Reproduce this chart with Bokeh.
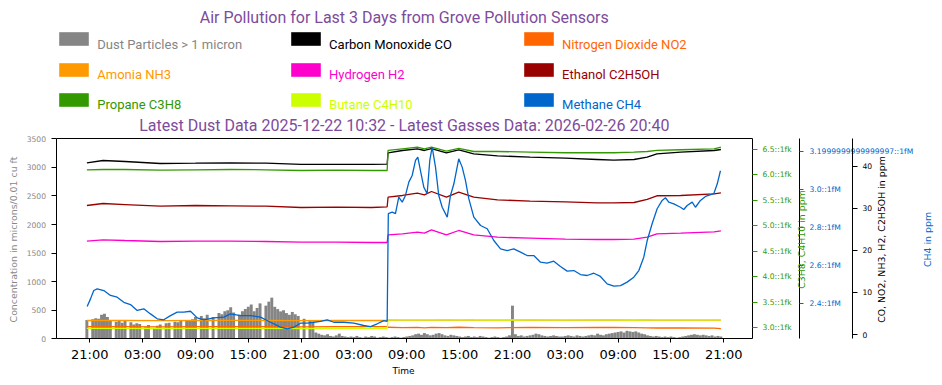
import math
import pandas as pd
from bokeh.plotting import figure
from bokeh.models import (Range1d, LinearAxis, FixedTicker, DatetimeTickFormatter,
                          Legend, LegendItem, Label, ColumnDataSource, CustomJSTickFormatter)
from bokeh.embed import file_html
from bokeh.resources import INLINE

# ---------------- data ----------------
first_tick = "2026-02-23 21:00"
x_tick_hours = [0, 6, 12, 18, 24, 30, 36, 42, 48, 54, 60, 66, 72]

# dust: one value per 20 minutes starting 2026-02-23 20:40
dust_start_hour = -1.0 / 3.0
dust_step_hours = 1.0 / 3.0
dust_values = [
    330, 0, 340, 360, 350, 420, 440, 380, 330, 0, 300, 310, 280, 320, 0, 290, 250, 270,
    260, 0, 200, 240, 0, 170, 230, 250, 0, 270, 280, 0, 300, 290, 310, 0, 320, 330,
    340, 380, 0, 400, 360, 420, 0, 380, 0, 450, 430, 480, 500, 550, 460, 0, 420, 480,
    520, 560, 600, 480, 540, 620, 0, 580, 650, 720, 560, 520, 480, 500, 450, 420, 470, 430,
    400, 0, 350, 0, 330, 300, 110, 90, 70, 60, 80, 50, 40, 60, 90, 50, 40, 30,
    40, 30, 50, 30, 20, 40, 30, 50, 40, 20, 30, 40, 30, 20, 30, 40, 30, 20,
    30, 40, 50, 60, 80, 90, 70, 100, 80, 60, 70, 90, 100, 80, 60, 50, 70, 60,
    50, 40, 30, 40, 50, 30, 40, 30, 50, 40, 30, 20, 30, 40, 30, 20, 30, 40,
    60, 580, 80, 50, 60, 40, 50, 60, 70, 90, 80, 60, 50, 40, 50, 60, 50, 40,
    40, 50, 60, 50, 40, 60, 50, 40, 50, 60, 70, 60, 90, 70, 60, 80, 90, 100,
    110, 120, 130, 110, 140, 130, 120, 130, 110, 90, 80, 60, 50, 40, 50, 40, 30, 40,
    30, 40, 30, 20, 30, 40, 50, 60, 70, 80, 70, 60, 70, 60, 50, 60, 40, 50, 40,
]

# gases (hours after 2026-02-23 21:00)
gas_hours = [-0.33, 1.5, 4, 8, 12, 16, 20, 24, 28, 32, 33.77,
             33.87, 35.5, 37.2, 38.0, 38.8, 40.5, 41.9, 43.6, 46.3, 50, 54,
             57.6, 59.5, 61.8, 63.3, 64.4, 67.1, 70.9, 71.67]
co = [40.81, 41.35, 41.12, 40.64, 40.72, 40.81, 40.72, 40.41, 40.41, 40.41, 40.48,
      43.18, 43.73, 44.14, 43.73, 44.20, 43.18, 43.90, 42.95, 42.47, 42.14, 41.90,
      41.59, 41.43, 41.59, 42.14, 42.95, 43.33, 43.73, 43.97]
no2 = [1.85, 1.87, 1.85, 1.83, 1.85, 1.87, 1.85, 1.83, 1.85, 1.85, 1.85,
       1.72, 1.62, 1.70, 1.58, 1.68, 1.62, 1.72, 1.65, 1.60, 1.68, 1.62,
       1.70, 1.66, 1.62, 1.58, 1.55, 1.55, 1.50, 1.40]
nh3 = [3.33, 3.35, 3.33, 3.31, 3.33, 3.35, 3.33, 3.31, 3.33, 3.33, 3.33,
       3.45, 3.47, 3.45, 3.47, 3.45, 3.45, 3.47, 3.45, 3.43, 3.45, 3.47,
       3.45, 3.45, 3.43, 3.45, 3.47, 3.45, 3.45, 3.43]
h2 = [22.17, 22.51, 22.34, 22.10, 22.17, 22.17, 22.10, 21.94, 21.94, 21.87, 21.87,
      23.70, 23.93, 24.31, 24.08, 24.88, 23.70, 24.72, 23.70, 23.13, 22.89, 22.66,
      22.58, 22.58, 22.66, 23.13, 23.93, 24.08, 24.41, 24.65]
c2h5oh = [30.66, 31.13, 30.89, 30.49, 30.66, 30.58, 30.49, 30.18, 30.26, 30.18, 30.35,
          32.63, 33.04, 33.58, 33.20, 33.99, 32.63, 33.82, 32.63, 32.01, 31.68, 31.54,
          31.30, 31.30, 31.37, 32.09, 32.97, 33.04, 33.44, 33.68]
c3h8 = [6.101, 6.107, 6.107, 6.093, 6.101, 6.107, 6.101, 6.087, 6.093, 6.087, 6.087,
        6.480, 6.513, 6.545, 6.513, 6.545, 6.466, 6.519, 6.460, 6.460, 6.447, 6.435,
        6.435, 6.435, 6.447, 6.460, 6.480, 6.494, 6.513, 6.545]
c4h10 = [2.988, 2.990, 2.988, 2.986, 2.988, 2.990, 2.988, 2.986, 2.988, 2.988, 2.988,
         3.155, 3.158, 3.160, 3.158, 3.160, 3.155, 3.158, 3.155, 3.152, 3.155, 3.158,
         3.155, 3.155, 3.152, 3.155, 3.158, 3.160, 3.158, 3.155]

ch4_hours = [-0.30, 0.08, 0.45, 0.84, 1.59, 2.35, 3.11, 3.86, 4.62, 5.38, 6.13, 6.89,
             7.65, 8.40, 9.16, 9.93, 10.67, 11.44, 12.20, 12.95, 14.08, 15.22, 15.98,
             17.11, 18.25, 19.38, 20.52, 21.66, 22.42, 23.17, 23.93, 24.69, 25.44,
             26.20, 26.96, 27.71, 28.84, 29.98, 31.11, 31.88, 32.64, 33.39, 33.77,
             33.90, 34.34, 34.71, 35.09, 35.48, 35.85, 36.23, 36.61, 36.99, 37.25,
             37.55, 37.93, 38.31, 38.61, 38.88, 39.26, 39.63, 40.02, 40.59, 40.96,
             41.34, 41.90, 42.29, 42.66, 43.04, 43.61, 44.37, 45.13, 45.88, 46.64,
             47.40, 48.15, 48.91, 49.67, 50.42, 51.18, 51.94, 52.69, 53.45, 54.21,
             54.97, 55.72, 56.48, 57.24, 57.99, 58.75, 59.51, 60.27, 61.02, 61.78,
             62.35, 62.91, 63.30, 63.86, 64.43, 65.00, 65.37, 65.75, 66.32, 67.08,
             67.45, 67.84, 68.41, 68.78, 69.35, 69.92, 70.86, 71.25, 71.62]
ch4 = [2.386, 2.426, 2.470, 2.479, 2.470, 2.444, 2.435, 2.408, 2.396, 2.365, 2.374, 2.347,
       2.321, 2.316, 2.338, 2.356, 2.356, 2.361, 2.326, 2.316, 2.326, 2.330, 2.347,
       2.338, 2.338, 2.330, 2.303, 2.277, 2.268, 2.277, 2.298, 2.298, 2.303,
       2.308, 2.316, 2.303, 2.303, 2.298, 2.286, 2.280, 2.295, 2.312, 2.308,
       2.874, 2.882, 2.874, 2.961, 2.935, 2.970, 3.040, 3.075, 3.154, 3.172,
       3.100, 3.014, 2.979, 3.154, 3.224, 3.119, 2.970, 2.908, 2.856, 2.970,
       3.030, 3.163, 3.119, 3.049, 2.953, 2.856, 2.812, 2.795, 2.733, 2.689,
       2.680, 2.689, 2.672, 2.654, 2.654, 2.619, 2.614, 2.624, 2.596, 2.572,
       2.575, 2.554, 2.549, 2.561, 2.544, 2.505, 2.493, 2.496, 2.514, 2.540,
       2.575, 2.645, 2.733, 2.821, 2.900, 2.944, 2.958, 2.935, 2.926, 2.908,
       2.896, 2.917, 2.935, 2.908, 2.944, 2.965, 2.979, 3.030, 3.100]

# value ranges of the plotting box, and ticks
dust_range = (0, 3500)
gas_range = (-1.02, 46.51)
c3c4_range = (2.784, 6.709)
ch4_range = (2.216, 3.268)
dust_ticks = [0, 500, 1000, 1500, 2000, 2500, 3000, 3500]
c3c4_ticks = [3.0, 3.5, 4.0, 4.5, 5.0, 5.5, 6.0, 6.5]
c3c4_tick_labels = ["3.0::1fk", "3.5::1fk", "4.0::1fk", "4.5::1fk",
                    "5.0::1fk", "5.5::1fk", "6.0::1fk", "6.5::1fk"]
ch4_ticks = [2.4, 2.6, 2.8, 3.0, 3.2]
ch4_tick_labels = ["2.4::1fM", "2.6::1fM", "2.8::1fM", "3.0::1fM",
                   "3.1999999999999997::1fM"]
gas_ticks = [0, 10, 20, 30, 40]

legend_labels = ["Dust Particles > 1 micron", "Carbon Monoxide CO", "Nitrogen Dioxide NO2",
                 "Amonia NH3", "Hydrogen H2", "Ethanol C2H5OH",
                 "Propane C3H8", "Butane C4H10", "Methane CH4"]
legend_keys = ["dust", "co", "no2", "nh3", "h2", "c2h5oh", "c3h8", "c4h10", "ch4"]
colors = {"dust": "#858585", "co": "#000000", "no2": "#ff6600", "nh3": "#ff9900",
          "h2": "#ff00cc", "c2h5oh": "#990000", "c3h8": "#339900", "c4h10": "#ccff00",
          "ch4": "#0066cc"}

title_text = "Air Pollution for Last 3 Days from Grove Pollution Sensors"
subtitle_text = "Latest Dust Data 2025-12-22 10:32 - Latest Gasses Data: 2026-02-26 20:40"
x_label = "Time"
dust_label = "Concentration in microns/0.01 cu ft"
c3c4_label = "C3H8, C4H10 in ppm"
ch4_label = "CH4 in ppm"
gas_label = "CO, NO2, NH3, H2, C2H5OH in ppm"
PURPLE = "#7d4b9c"
GRAY_TXT = "#888888"

# ---------------- layout (page pixels; the whole canvas is the frame) ----------------
W, H = 942, 385
BOX_L, BOX_R = 55.5, 752.0       # plotting box left/right
BOX_T, BOX_B = 138.3, 338.3      # plotting box top/bottom
TICK0_X = 89.3                   # x of the first 21:00 tick
PX_PER_HOUR = 8.8056
BLUE_X, BLACK_X = 799.0, 852.0
MID_Y = 239.0

T0 = pd.Timestamp(first_tick)


def at_hours(hs):
    return [T0 + pd.Timedelta(hours=h) for h in hs]


def ms(ts):
    return (ts - pd.Timestamp("1970-01-01")) / pd.Timedelta(milliseconds=1)


MS_PER_PX = 3600 * 1000 / PX_PER_HOUR
t0_ms = ms(T0)


def x_at(px):
    return t0_ms + (px - TICK0_X) * MS_PER_PX


def y_range_for(rng):
    lo, hi = rng
    per_px = (hi - lo) / (BOX_B - BOX_T)
    return Range1d(lo - (H - BOX_B) * per_px, hi + BOX_T * per_px)


x0, x1 = x_at(BOX_L), x_at(BOX_R)

dust_hours = [dust_start_hour + i * dust_step_hours for i in range(len(dust_values))]
dust_src = ColumnDataSource(dict(t=at_hours(dust_hours), v=dust_values))
gas_src = ColumnDataSource(dict(t=at_hours(gas_hours), co=co, no2=no2, nh3=nh3, h2=h2,
                                c2h5oh=c2h5oh, c3h8=c3h8, c4h10=c4h10))
ch4_src = ColumnDataSource(dict(t=at_hours(ch4_hours), v=ch4))

p = figure(width=W, height=H, x_axis_type="datetime",
           x_range=Range1d(x_at(0), x_at(W)), y_range=y_range_for(dust_range),
           output_backend="svg", toolbar_location=None,
           min_border_left=0, min_border_right=0, min_border_top=0, min_border_bottom=0)
p.extra_y_ranges = {"gas": y_range_for(gas_range), "c3c4": y_range_for(c3c4_range),
                    "ch4": y_range_for(ch4_range)}
p.grid.visible = False
p.outline_line_color = None
p.background_fill_color = "white"
p.border_fill_color = "white"

TICK_FONT = "DejaVu Sans"


def labels_formatter(tick_values, tick_texts):
    return CustomJSTickFormatter(
        args=dict(tv=tick_values, lbl=tick_texts),
        code="for (let i = 0; i < tv.length; i++) {"
             " if (Math.abs(tv[i] - tick) < 1e-6) { return lbl[i]; } }"
             " return String(tick);")


def style_axis(ax, color, label_color=None, standoff=5, tick_out=5):
    ax.major_tick_in = 0
    ax.major_tick_out = tick_out
    ax.minor_tick_line_color = None
    ax.axis_line_color = "black"
    ax.major_tick_line_color = color
    ax.major_label_text_color = label_color or color
    ax.major_label_text_font = TICK_FONT
    ax.major_label_text_font_size = "7.6px"
    ax.major_label_standoff = standoff


# bottom axis
xa = p.xaxis[0]
xa.fixed_location = dust_range[0]
xa.bounds = (x0, x1)
xa.ticker = FixedTicker(ticks=[ms(t) for t in at_hours(x_tick_hours)])
xa.formatter = DatetimeTickFormatter(hours="%H:%M", hourmin="%H:%M", days="%H:%M",
                                     minutes="%H:%M", strip_leading_zeros=False)
style_axis(xa, "black", "black", standoff=4, tick_out=4)
xa.major_label_text_font_size = "13px"

# left axis (dust)
ya = p.yaxis[0]
ya.fixed_location = x0
ya.bounds = dust_range
ya.ticker = FixedTicker(ticks=dust_ticks)
style_axis(ya, "black", GRAY_TXT, standoff=5, tick_out=5)

# top edge of the plotting box
top_ax = LinearAxis(fixed_location=dust_range[1], bounds=(x0, x1),
                    ticker=FixedTicker(ticks=[]), major_tick_line_color=None,
                    minor_tick_line_color=None, axis_line_color="black")
p.add_layout(top_ax, "above")

# right axes
green_ax = LinearAxis(y_range_name="c3c4", ticker=FixedTicker(ticks=c3c4_ticks),
                      bounds=c3c4_range, fixed_location=x1,
                      formatter=labels_formatter(c3c4_ticks, c3c4_tick_labels))
style_axis(green_ax, "#339900", standoff=5, tick_out=5)
p.add_layout(green_ax, "right")

blue_ax = LinearAxis(y_range_name="ch4", ticker=FixedTicker(ticks=ch4_ticks),
                     bounds=ch4_range, fixed_location=x_at(BLUE_X),
                     formatter=labels_formatter(ch4_ticks, ch4_tick_labels))
style_axis(blue_ax, "#0066cc", standoff=6, tick_out=4)
p.add_layout(blue_ax, "right")

black_ax = LinearAxis(y_range_name="gas", ticker=FixedTicker(ticks=gas_ticks),
                      bounds=gas_range, fixed_location=x_at(BLACK_X))
style_axis(black_ax, "black", standoff=5, tick_out=5)
p.add_layout(black_ax, "right")

# axis titles
axis_titles = [
    (x_label, 403.0, 370.0, 0.0, "black", "9px"),
    (dust_label, 12.6, MID_Y, math.pi / 2, GRAY_TXT, "9.4px"),
    (c3c4_label, 800.5, MID_Y, math.pi / 2, "#339900", "9.4px"),
    (gas_label, 880.8, MID_Y, math.pi / 2, "black", "9.4px"),
    (ch4_label, 926.7, MID_Y, math.pi / 2, "#0066cc", "9.4px"),
]
for text, cx, cy, ang, col, size in axis_titles:
    p.add_layout(Label(x=cx, y=H - cy, x_units="screen", y_units="screen", text=text,
                       angle=ang, text_align="center", text_baseline="middle",
                       text_font=TICK_FONT, text_font_size=size, text_color=col))

# ---------------- marks ----------------
renderers = {}
renderers["dust"] = p.vbar(x="t", top="v", width=20 * 60 * 1000, source=dust_src,
                           fill_color=colors["dust"], line_color=None)
for key in ["co", "no2", "nh3", "h2", "c2h5oh"]:
    p.line(x="t", y=key, source=gas_src, y_range_name="gas", line_color=colors[key],
           line_width=1.3)
for key in ["c3h8", "c4h10"]:
    p.line(x="t", y=key, source=gas_src, y_range_name="c3c4", line_color=colors[key],
           line_width=1.3)
p.line(x="t", y="v", source=ch4_src, y_range_name="ch4", line_color=colors["ch4"],
       line_width=1.3)

# legend swatches (patch proxies, as in the original legend; nothing drawn in the plot)
for key in legend_keys[1:]:
    renderers[key] = p.vbar(x=[float("nan")], top=[float("nan")], width=1,
                            fill_color=colors[key], line_color=None)
no_swatch = p.vbar(x=[float("nan")], top=[float("nan")], width=1,
                   fill_alpha=0, line_alpha=0)

COL_X = [55.3, 287.1, 520.1]
ROW_TOP = [30.3, 60.6, 90.9]
GLYPH_W, GLYPH_H = 37, 17
TEXT_DY = 14          # text centre sits below the top of the swatch
common = dict(orientation="vertical", padding=0, margin=0, spacing=0,
              background_fill_alpha=0, border_line_alpha=0)
for i, (key, lab) in enumerate(zip(legend_keys, legend_labels)):
    r, c = divmod(i, 3)
    # coloured swatch
    p.add_layout(Legend(items=[LegendItem(label="", renderers=[renderers[key]])],
                        location=(COL_X[c], H - ROW_TOP[r] - GLYPH_H),
                        glyph_width=GLYPH_W, glyph_height=GLYPH_H, label_height=GLYPH_H,
                        label_width=0, label_standoff=0, **common))
    # coloured label, beside and a little below the swatch
    item_h = 2 * TEXT_DY
    p.add_layout(Legend(items=[LegendItem(label=lab, renderers=[no_swatch])],
                        location=(COL_X[c] + GLYPH_W, H - ROW_TOP[r] - item_h),
                        glyph_width=0, glyph_height=item_h, label_height=item_h,
                        label_standoff=5, label_text_font="Roboto",
                        label_text_font_size="13px", label_text_color=colors[key],
                        **common))

# titles
for text, cy in [(title_text, 17.0), (subtitle_text, 125.0)]:
    p.add_layout(Label(x=(BOX_L + BOX_R) / 2, y=H - cy, x_units="screen", y_units="screen",
                       text=text, text_align="center", text_baseline="middle",
                       text_font="Roboto", text_font_size="16px", text_color=PURPLE))

open("out.html", "w").write(file_html(p, INLINE))
